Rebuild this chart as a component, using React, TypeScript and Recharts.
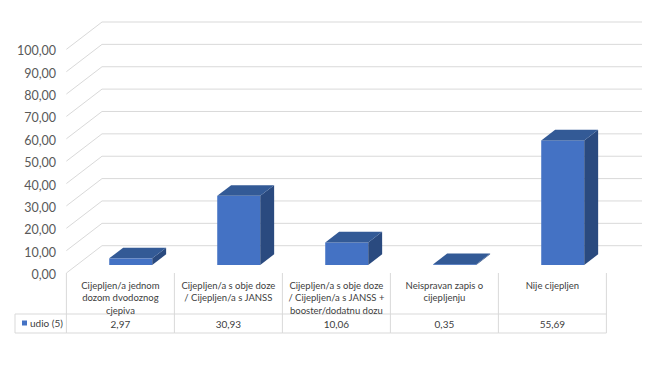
import { BarChart, Bar, XAxis, YAxis, CartesianGrid } from "recharts";

// category header cells (line breaks as in the table)
const categories = [
  "Cijepljen/a jednom\ndozom dvodoznog\ncjepiva",
  "Cijepljen/a s obje doze\n/ Cijepljen/a s JANSS",
  "Cijepljen/a s obje doze\n/ Cijepljen/a s JANSS +\nbooster/dodatnu dozu",
  "Neispravan zapis o\ncijepljenju",
  "Nije cijepljen",
];
const udio = [2.97, 30.93, 10.06, 0.35, 55.69];
const seriesName = "udio (5)";
const yTicks = [0, 10, 20, 30, 40, 50, 60, 70, 80, 90, 100];

const data = categories.map((name, i) => ({ name, value: udio[i] }));

// fake 3d geometry (floor depth, bar depth position)
const PLOT_LEFT = 102;
const PLOT_BOTTOM = 245.7;
const DX = 35.6;
const DY = 27.3;
const F_FRONT = 0.707;
const F_BACK = 0.316;
const TABLE_TOP = PLOT_BOTTOM + DY;
const ROW_SPLIT = 314;
const TABLE_BOTTOM = 333;
const TABLE_LEFT = 15;

const FRONT = "#4472C4";
const TOP = "#335A96";
const SIDE = "#2A4A7F";
const GRID = "#D9D9D9";
const TEXT = "#404040";
const FONT = "Lato, 'Open Sans', sans-serif";

const fmt = (v: number) => v.toFixed(2).replace(".", ",");

function Bar3D(props: any) {
  const { x, y, width: w, height: h } = props;
  const fx = x - F_FRONT * DX;
  const fy = y + F_FRONT * DY;
  const tdx = (F_FRONT - F_BACK) * DX;
  const tdy = (F_FRONT - F_BACK) * DY;
  return (
    <g>
      <rect x={fx} y={fy} width={w} height={Math.max(h, 0)} fill={FRONT} />
      <polygon
        points={`${fx + w},${fy} ${fx + w + tdx},${fy - tdy} ${fx + w + tdx},${fy + h - tdy} ${fx + w},${fy + h}`}
        fill={SIDE}
      />
      <polygon
        points={`${fx},${fy} ${fx + w},${fy} ${fx + w + tdx},${fy - tdy} ${fx + tdx},${fy - tdy}`}
        fill={TOP}
      />
    </g>
  );
}

function YTick(props: any) {
  const { y, payload } = props;
  return (
    <g>
      <line x1={PLOT_LEFT} y1={y} x2={PLOT_LEFT - DX} y2={y + DY} stroke={GRID} strokeWidth={1} />
      <text
        x={56}
        y={y + DY + 1.5}
        textAnchor="end"
        dominantBaseline="central"
        fontSize={12.5}
        fontFamily={FONT}
        fill="#595959"
      >
        {fmt(payload.value)}
      </text>
    </g>
  );
}

function TableTick(props: any) {
  const { x, payload, index } = props;
  const cx = x - DX;
  const half = 54;
  const lines = String(payload.value).split("\n");
  return (
    <g>
      {index === 0 && (
        <g>
          <line x1={cx - half} y1={TABLE_TOP} x2={cx - half} y2={TABLE_BOTTOM} stroke={GRID} />
          <line x1={TABLE_LEFT} y1={ROW_SPLIT} x2={TABLE_LEFT} y2={TABLE_BOTTOM} stroke={GRID} />
          <line x1={TABLE_LEFT} y1={ROW_SPLIT} x2={cx - half} y2={ROW_SPLIT} stroke={GRID} />
          <line x1={TABLE_LEFT} y1={TABLE_BOTTOM} x2={cx - half} y2={TABLE_BOTTOM} stroke={GRID} />
          <rect x={22} y={320.5} width={5} height={5} fill={FRONT} />
          <text x={30} y={327} fontSize={10} fontFamily={FONT} fill={TEXT}>
            {seriesName}
          </text>
        </g>
      )}
      <line x1={cx + half} y1={TABLE_TOP} x2={cx + half} y2={TABLE_BOTTOM} stroke={GRID} />
      <line x1={cx - half} y1={ROW_SPLIT} x2={cx + half} y2={ROW_SPLIT} stroke={GRID} />
      <line x1={cx - half} y1={TABLE_BOTTOM} x2={cx + half} y2={TABLE_BOTTOM} stroke={GRID} />
      <text textAnchor="middle" fontSize={9.5} fontFamily={FONT} fill={TEXT}>
        {lines.map((l, i) => (
          <tspan key={i} x={cx} y={288.5 + i * 12.5}>
            {l}
          </tspan>
        ))}
      </text>
      <text x={cx} y={327.5} textAnchor="middle" fontSize={10} fontFamily={FONT} fill={TEXT}>
        {fmt(udio[index])}
      </text>
    </g>
  );
}

export default function App() {
  return (
    <div style={{ position: "absolute", left: 0, top: 0, width: 661, height: 372, background: "#fff" }}>
      <BarChart
        width={661}
        height={372}
        data={data}
        margin={{ top: 22, right: 19, bottom: 66.3, left: 0 }}
        barCategoryGap="30%"
      >
        <CartesianGrid vertical={false} stroke={GRID} strokeWidth={1} />
        <XAxis
          dataKey="name"
          axisLine={false}
          tickLine={false}
          height={60}
          interval={0}
          tick={<TableTick />}
        />
        <YAxis
          domain={[0, 100]}
          ticks={yTicks}
          interval={0}
          width={102}
          axisLine={false}
          tickLine={false}
          tick={<YTick />}
        />
        <Bar dataKey="value" shape={<Bar3D />} isAnimationActive={false} />
      </BarChart>
    </div>
  );
}
